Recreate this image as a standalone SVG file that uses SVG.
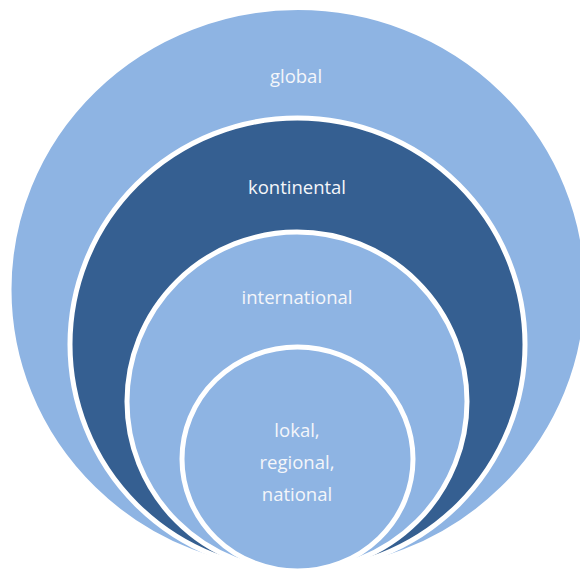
<svg xmlns="http://www.w3.org/2000/svg" width="580" height="573" viewBox="0 0 580 573">
<style>
.light{fill:#8EB4E3;stroke:#FFFFFF;stroke-width:5}
.dark{fill:#355F91;stroke:#FFFFFF;stroke-width:5}
.t{font-family:"Open Sans","Liberation Sans",sans-serif;font-size:18.5px;fill:#F4F6FA;text-anchor:middle}
</style>
<rect width="580" height="573" fill="#FFFFFF"/>
<g id="global">
<ellipse class="light" cx="298" cy="289.5" rx="289" ry="282"/>
<text class="t" x="296" y="83">global</text>
</g>
<g id="kontinental">
<ellipse class="dark" cx="297.5" cy="344.5" rx="227.5" ry="226.5"/>
<text class="t" x="297" y="194">kontinental</text>
</g>
<g id="international">
<ellipse class="light" cx="297" cy="401.5" rx="170" ry="169.5"/>
<text class="t" x="297" y="304">international</text>
</g>
<g id="lokal">
<ellipse class="light" cx="297.5" cy="459" rx="115.5" ry="112"/>
<text class="t" x="297" y="437">lokal,</text>
<text class="t" x="297" y="469">regional,</text>
<text class="t" x="297" y="501">national</text>
</g>
<g id="connectors"/>
</svg>
